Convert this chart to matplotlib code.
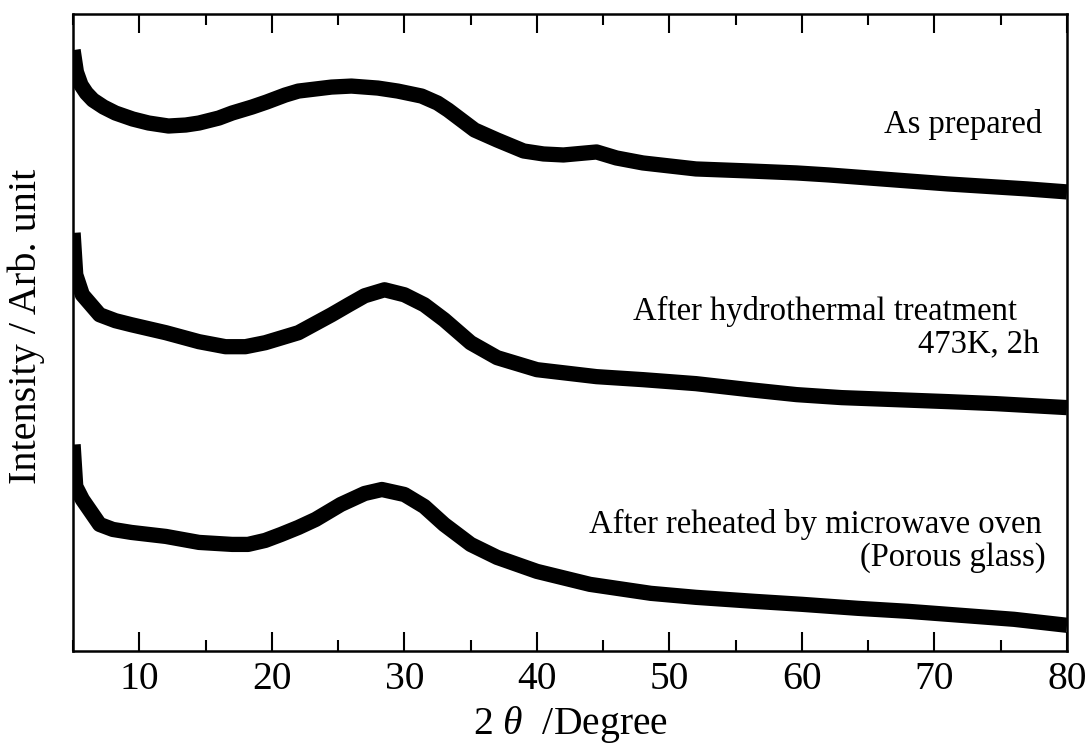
import matplotlib
matplotlib.use("Agg")
import matplotlib.pyplot as plt
from matplotlib.ticker import MultipleLocator

plt.rcParams["font.family"] = ["Liberation Serif", "DejaVu Serif"]
plt.rcParams["mathtext.fontset"] = "custom"
plt.rcParams["mathtext.rm"] = "Liberation Serif"
plt.rcParams["mathtext.it"] = "Liberation Serif:italic"

# 2theta (deg) and intensity (arb. unit)
tt_prep = [5.0, 5.25, 5.6, 6.0, 6.5, 7.3, 8.2, 9.5, 10.7, 12.2, 13.5, 14.5, 16.0, 17.0,
           18.5, 19.6, 21.0, 22.0, 24.5, 26.0, 28.0, 29.5, 31.3, 32.5, 33.3, 34.5,
           35.3, 37.0, 39.0, 40.5, 42.0, 44.5, 46.0, 48.0, 52.0, 56.0, 59.6, 62.0,
           67.0, 71.0, 74.6, 77.0, 80.0]
int_prep = [602, 580, 567, 559, 552, 545, 539, 533, 529, 526, 527, 529, 534, 539,
            545, 550, 557, 561, 565, 566, 564, 561, 556, 549, 542, 530,
            522, 512, 501, 498, 497, 500, 494, 489, 483, 481, 479, 477,
            472, 468, 465, 463, 460]

tt_hydro = [5.0, 5.2, 5.7, 7.0, 8.2, 9.4, 12.0, 14.5, 16.5, 18.0, 19.5, 22.0, 24.5,
            25.8, 27.0, 28.5, 30.0, 31.5, 33.0, 35.0, 37.0, 40.0, 44.5, 48.0, 52.0,
            56.0, 59.6, 63.0, 67.0, 71.0, 74.6, 80.0]
int_hydro = [419, 377, 357, 337, 331, 327, 319, 310, 305, 305, 309, 319, 337,
             347, 356, 362, 357, 347, 332, 309, 294, 282, 275, 272, 268,
             262, 257, 254, 252, 250, 248, 244]

tt_micro = [5.0, 5.2, 5.7, 7.0, 8.0, 9.4, 12.0, 14.5, 17.0, 18.2, 19.5, 20.7, 22.0,
            23.3, 25.2, 27.0, 28.3, 30.0, 31.5, 33.0, 35.0, 37.0, 40.0, 44.0, 48.6,
            52.0, 56.4, 60.0, 64.2, 68.0, 72.0, 76.0, 80.0]
int_micro = [207, 165, 152, 127, 122, 119, 115, 109, 107, 107, 111, 117, 124,
             132, 147, 158, 162, 157, 145, 127, 107, 94, 80, 67, 58,
             54, 50, 47, 43, 40, 36, 32, 26]

fig = plt.figure(figsize=(10.91, 7.46), dpi=100)
ax = fig.add_axes([0.067, 0.127, 0.911, 0.854])

for tt, inten in [(tt_prep, int_prep), (tt_hydro, int_hydro), (tt_micro, int_micro)]:
    ax.plot(tt, inten, color="black", linewidth=11, solid_joinstyle="round",
            solid_capstyle="butt")

ax.set_xlim(5, 80)
ax.set_ylim(0, 638)
ax.set_yticks([])
ax.xaxis.set_major_locator(MultipleLocator(10))
ax.xaxis.set_minor_locator(MultipleLocator(5))
ax.tick_params(axis="x", which="both", direction="in", top=True, bottom=True,
               labelsize=28.5, width=1.5, pad=7)
ax.tick_params(axis="x", which="major", length=14)
ax.tick_params(axis="x", which="minor", length=8)
for s in ax.spines.values():
    s.set_linewidth(1.8)

ax.set_xlabel(r"2 $\theta$  /Degree", fontsize=28.5, labelpad=4)
ax.set_ylabel("Intensity / Arb. unit", fontsize=29)
ax.yaxis.set_label_coords(-0.028, 0.51)

# sample labels, read position in data units
ax.text(78.1, 528, "As prepared", ha="right", va="center", fontsize=23.5)
ax.text(76.2, 340, "After hydrothermal treatment", ha="right", va="center", fontsize=23.5)
ax.text(77.9, 307, "473K, 2h", ha="right", va="center", fontsize=23.5)
ax.text(78.1, 127, "After reheated by microwave oven", ha="right", va="center", fontsize=23.5)
ax.text(78.4, 94, "(Porous glass)", ha="right", va="center", fontsize=23.5)

fig.savefig("out.png", dpi=100)
